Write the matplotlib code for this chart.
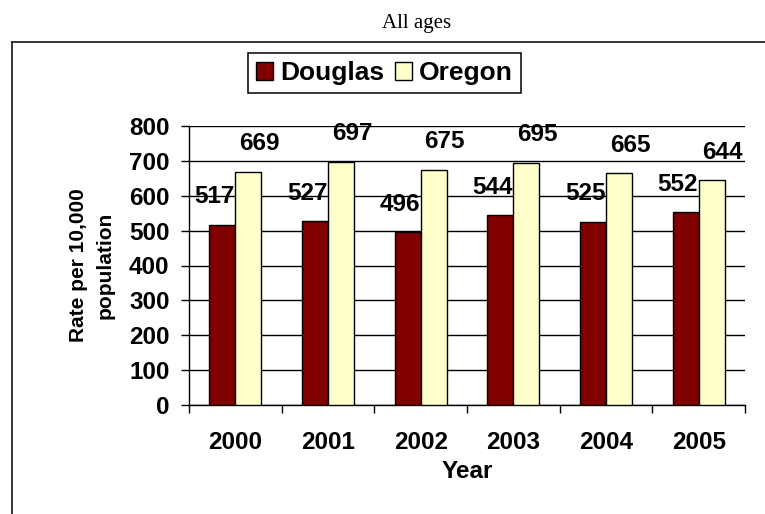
import numpy as np
import matplotlib.pyplot as plt
from matplotlib.patches import Patch
from matplotlib.lines import Line2D

years = ['2000', '2001', '2002', '2003', '2004', '2005']
douglas = [517, 527, 496, 544, 525, 552]
oregon = [669, 697, 675, 695, 665, 644]
series_names = ['Douglas', 'Oregon']
y_ticks = [0, 100, 200, 300, 400, 500, 600, 700, 800]

W, H = 765, 514
plt.rcParams['font.family'] = ['Liberation Sans', 'DejaVu Sans']
fig = plt.figure(figsize=(W / 100, H / 100), dpi=100, facecolor='white')

# axes placed in pixel terms: left 189, right 745, top 126, bottom 405
ax = fig.add_axes([189 / W, (H - 405) / H, 556 / W, 279 / H])

x = np.arange(len(years))
bw = 0.28
ax.bar(x - bw / 2, douglas, bw, color='#800000', edgecolor='black', linewidth=1.0, zorder=3)
ax.bar(x + bw / 2, oregon, bw, color='#FFFFCC', edgecolor='black', linewidth=1.0, zorder=3)

# data labels, Excel style offsets
for xi, v in zip(x, douglas):
    ax.annotate(str(v), (xi - bw / 2, v), xytext=(-8, 28), textcoords='offset pixels',
                ha='center', va='center', fontsize=17.5, fontweight='bold', zorder=5)
for xi, v in zip(x, oregon):
    ax.annotate(str(v), (xi + bw / 2, v), xytext=(11, 28), textcoords='offset pixels',
                ha='center', va='center', fontsize=17.5, fontweight='bold', zorder=5)

ax.set_xlim(-0.5, len(years) - 0.5)
ax.set_ylim(0, 800)
ax.set_yticks(y_ticks)
ax.set_yticklabels([str(t) for t in y_ticks], fontsize=17.5, fontweight='bold')
ax.yaxis.grid(True, color='black', linewidth=1.0)
ax.set_axisbelow(True)

# year labels at centres, tick marks at category boundaries
ax.set_xticks(x)
ax.set_xticklabels(years, fontsize=17.5, fontweight='bold')
ax.tick_params(axis='x', which='major', length=0, pad=19)
ax.set_xticks(np.arange(-0.5, len(years)), minor=True)
ax.tick_params(axis='x', which='minor', length=6, width=1.0, direction='out', color='black')
ax.tick_params(axis='y', length=6, width=1.0, direction='out', pad=8, color='black')

for s in ['top', 'right']:
    ax.spines[s].set_visible(False)
for s in ['left', 'bottom']:
    ax.spines[s].set_color('black')
    ax.spines[s].set_linewidth(1.0)

fig.text(467 / W, 1 - 472 / H, 'Year', ha='center', va='center', fontsize=17.5, fontweight='bold')
fig.text(92 / W, 1 - 265 / H, 'Rate per 10,000\npopulation', rotation=90, ha='center', va='center',
         multialignment='center', fontsize=15, fontweight='bold', linespacing=1.5)

# chart title above the outer frame
fig.text(417 / W, 1 - 28 / H, 'All ages', ha='center', va='baseline', fontsize=15,
         family='Liberation Serif')

# outer chart-area frame (left and top edges visible)
fig.add_artist(Line2D([12 / W, 12 / W], [0, 1 - 42 / H], transform=fig.transFigure,
                      color='black', linewidth=1.1))
fig.add_artist(Line2D([12 / W, 1], [1 - 42 / H, 1 - 42 / H], transform=fig.transFigure,
                      color='black', linewidth=1.1))

handles = [Patch(facecolor='#800000', edgecolor='black', linewidth=1.0),
           Patch(facecolor='#FFFFCC', edgecolor='black', linewidth=1.0)]
leg = fig.legend(handles, series_names, loc='center', bbox_to_anchor=(384.5 / W, 1 - 73 / H),
                 ncol=2, frameon=True, fancybox=False, edgecolor='black', framealpha=1,
                 prop={'size': 19, 'weight': 'bold'}, handlelength=0.65, handleheight=0.65,
                 handletextpad=0.25, columnspacing=0.42, borderpad=0.3, borderaxespad=0)
leg.get_frame().set_linewidth(1.1)

fig.savefig('out.png', dpi=100, facecolor='white')
